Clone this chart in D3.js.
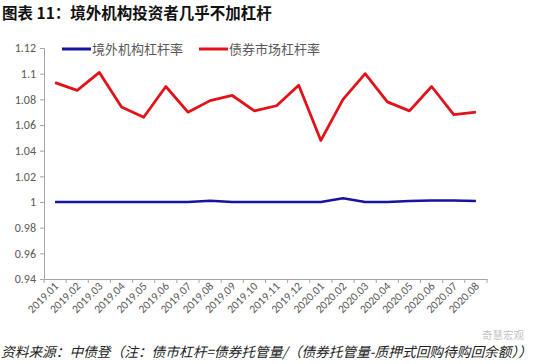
<!DOCTYPE html>
<html>
<head>
<meta charset="utf-8">
<script src="https://d3js.org/d3.v7.min.js"></script>
<style>
  body { margin: 0; background: #fff; }
  svg { display: block; }
  text { font-family: "Noto Sans CJK SC", "Microsoft YaHei", sans-serif; }
  .axis text { font-family: Calibri, "Liberation Sans", "Noto Sans", sans-serif; fill: #595959; }
</style>
</head>
<body>
<div id="chart"></div>
<script>
  'use strict';

  var months = ["2019.01","2019.02","2019.03","2019.04","2019.05","2019.06","2019.07","2019.08",
                "2019.09","2019.10","2019.11","2019.12","2020.01","2020.02","2020.03","2020.04",
                "2020.05","2020.06","2020.07","2020.08"];
  var foreignLev = [1.000,1.000,1.000,1.000,1.000,1.000,1.000,1.001,1.000,1.000,
                    1.000,1.000,1.000,1.003,1.000,1.000,1.0007,1.0012,1.0012,1.0007];
  var bondLev = [1.093,1.087,1.101,1.074,1.066,1.090,1.070,1.079,1.083,1.071,
                 1.075,1.091,1.048,1.080,1.100,1.078,1.071,1.090,1.068,1.070];
  var yTicks = [0.94,0.96,0.98,1,1.02,1.04,1.06,1.08,1.1,1.12];
  var seriesNames = ["境外机构杠杆率","债券市场杠杆率"];
  var colors = ["#14149e","#e2121a"];

  var width = 550, height = 364;
  var svg = d3.select("#chart").append("svg").attr("width", width).attr("height", height);

  // title
  svg.append("text").attr("x", 2).attr("y", 19)
     .attr("font-size", 15.5).attr("font-weight", "bold").attr("fill", "#111")
     .text("图表 11：境外机构投资者几乎不加杠杆");

  var x = d3.scaleBand().domain(months).range([44, 487]);
  var y = d3.scaleLinear().domain([0.94, 1.12]).range([279, 48]);

  // y axis
  var yAxis = svg.append("g").attr("class", "axis")
     .attr("transform", "translate(44,0)")
     .call(d3.axisLeft(y).tickValues(yTicks).tickSize(4).tickPadding(4)
           .tickFormat(function(d) { return d3.format("~g")(d); }));
  yAxis.select(".domain").attr("stroke", "#a6a6a6");
  yAxis.selectAll(".tick line").attr("stroke", "#a6a6a6");
  yAxis.selectAll("text").attr("font-size", 12);

  // x axis
  var xAxis = svg.append("g").attr("class", "axis")
     .attr("transform", "translate(0,279)")
     .call(d3.axisBottom(x).tickSize(0).tickSizeOuter(0));
  xAxis.select(".domain").attr("stroke", "#a6a6a6");
  xAxis.selectAll(".tick text")
     .attr("font-size", 11.5)
     .attr("text-anchor", "end")
     .attr("dy", null).attr("y", 0)
     .attr("transform", "translate(4,8) rotate(-45)");
  // tick marks at band boundaries
  xAxis.selectAll(".bound")
     .data(months.concat(["end"]))
     .enter().append("line")
     .attr("x1", function(d, i) { return 44 + i * x.step(); })
     .attr("x2", function(d, i) { return 44 + i * x.step(); })
     .attr("y1", 0).attr("y2", 4)
     .attr("stroke", "#a6a6a6");

  var line = d3.line()
     .x(function(d, i) { return x(months[i]) + x.bandwidth() / 2; })
     .y(function(d) { return y(d); });

  svg.append("path").datum(foreignLev)
     .attr("d", line).attr("fill", "none")
     .attr("stroke", colors[0]).attr("stroke-width", 2.5).attr("stroke-linejoin", "round");
  svg.append("path").datum(bondLev)
     .attr("d", line).attr("fill", "none")
     .attr("stroke", colors[1]).attr("stroke-width", 2.8).attr("stroke-linejoin", "round");

  // legend
  var legendX = [62, 199];
  var legend = svg.selectAll(".legend").data(seriesNames).enter().append("g")
     .attr("transform", function(d, i) { return "translate(" + legendX[i] + ",49)"; });
  legend.append("line").attr("x1", 0).attr("x2", 29).attr("y1", 0).attr("y2", 0)
     .attr("stroke", function(d, i) { return colors[i]; }).attr("stroke-width", 3);
  legend.append("text").attr("x", 30).attr("y", 4.5)
     .attr("font-size", 13).attr("fill", "#595959")
     .text(function(d) { return d; });

  // watermark
  svg.append("text").attr("x", 482).attr("y", 339)
     .attr("font-size", 10.5).attr("fill", "#c4c4c4").text("奇慧宏观");

  // source note
  svg.append("text").attr("x", 1).attr("y", 357)
     .attr("font-size", 13.7).attr("font-style", "italic").attr("fill", "#222")
     .attr("font-family", "\"Noto Sans CJK SC\", serif")
     .text("资料来源：中债登（注：债市杠杆=债券托管量/（债券托管量-质押式回购待购回余额））");
</script>
</body>
</html>
